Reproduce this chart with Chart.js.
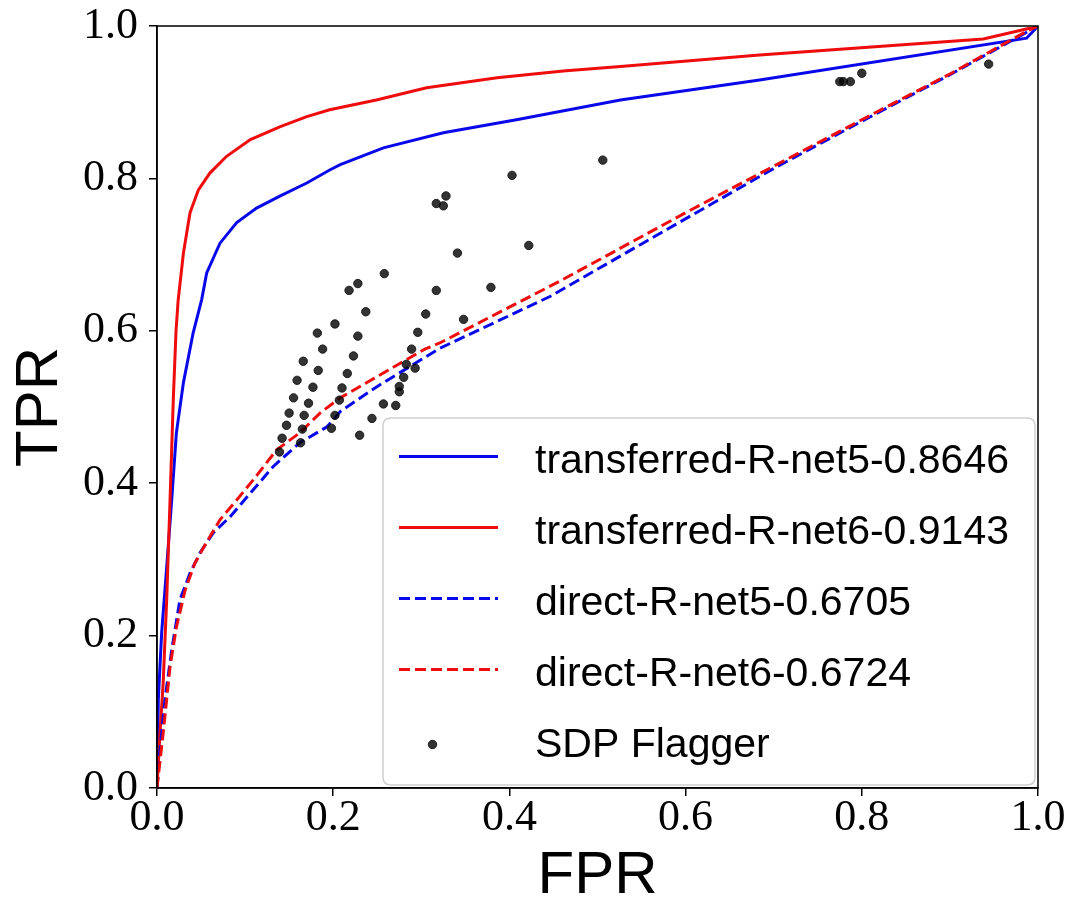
<!DOCTYPE html>
<html>
<head>
<meta charset="utf-8">
<script src="https://cdn.jsdelivr.net/npm/chart.js@4.4.1/dist/chart.umd.min.js"></script>
<style>
  html, body { margin: 0; padding: 0; background: #fff; }
  #wrap { width: 1070px; height: 914px; }
</style>
</head>
<body>
<div id="wrap"><canvas id="c" width="1070" height="914"></canvas></div>
<script>
// ---- Data ----
const seriesLabels = [
  'transferred-R-net5-0.8646',
  'transferred-R-net6-0.9143',
  'direct-R-net5-0.6705',
  'direct-R-net6-0.6724',
  'SDP Flagger'
];
const xTickValues = [0, 0.2, 0.4, 0.6, 0.8, 1.0];
const yTickValues = [0, 0.2, 0.4, 0.6, 0.8, 1.0];

// transferred-R-net5 (blue solid)
const tNet5FPR = [0, 0.0015, 0.0053, 0.011, 0.0167, 0.022, 0.030, 0.041, 0.0507, 0.0564, 0.0715, 0.0905, 0.113, 0.140, 0.170, 0.196, 0.208, 0.257, 0.325, 0.408, 0.526, 0.684, 0.987, 1.0];
const tNet5TPR = [0, 0.116, 0.204, 0.290, 0.378, 0.466, 0.532, 0.597, 0.641, 0.676, 0.715, 0.742, 0.761, 0.777, 0.794, 0.811, 0.818, 0.840, 0.860, 0.877, 0.903, 0.929, 0.984, 1.0];

// transferred-R-net6 (red solid)
const tNet6FPR = [0, 0.0034, 0.007, 0.011, 0.0148, 0.0185, 0.0216, 0.024, 0.030, 0.0375, 0.047, 0.060, 0.079, 0.106, 0.140, 0.170, 0.196, 0.249, 0.306, 0.386, 0.461, 0.526, 0.684, 0.938, 0.994, 1.0];
const tNet6TPR = [0, 0.072, 0.138, 0.247, 0.378, 0.510, 0.600, 0.640, 0.702, 0.755, 0.785, 0.807, 0.829, 0.851, 0.868, 0.881, 0.890, 0.903, 0.919, 0.932, 0.941, 0.947, 0.962, 0.983, 0.998, 1.0];

// direct-R-net5 (blue dashed)
const dNet5FPR = [0, 0.0034, 0.009, 0.0167, 0.026, 0.0375, 0.049, 0.064, 0.083, 0.106, 0.132, 0.162, 0.193, 0.208, 0.250, 0.321, 0.446, 0.550, 0.700, 0.800, 0.900, 1.0];
const dNet5TPR = [0, 0.050, 0.116, 0.181, 0.247, 0.282, 0.309, 0.335, 0.356, 0.387, 0.422, 0.453, 0.474, 0.494, 0.527, 0.577, 0.645, 0.714, 0.813, 0.875, 0.936, 1.0];

// direct-R-net6 (red dashed)
const dNet6FPR = [0, 0.007, 0.0148, 0.022, 0.032, 0.043, 0.056, 0.0715, 0.0905, 0.109, 0.136, 0.162, 0.185, 0.208, 0.250, 0.304, 0.321, 0.457, 0.600, 0.800, 0.900, 0.987, 1.0];
const dNet6TPR = [0, 0.072, 0.159, 0.211, 0.260, 0.295, 0.322, 0.352, 0.378, 0.404, 0.444, 0.466, 0.492, 0.512, 0.540, 0.576, 0.584, 0.665, 0.755, 0.877, 0.937, 0.993, 1.0];

// SDP Flagger operating points
const sdpFPR = [0.258, 0.228, 0.218, 0.317, 0.237, 0.305, 0.202, 0.182, 0.228, 0.296, 0.188, 0.223, 0.289, 0.166, 0.183, 0.216, 0.283, 0.293, 0.280, 0.159, 0.177, 0.210, 0.275, 0.275, 0.155, 0.172, 0.207, 0.257, 0.271, 0.150, 0.167, 0.202, 0.244, 0.147, 0.165, 0.198, 0.142, 0.163, 0.230, 0.139, 0.403, 0.328, 0.317, 0.325, 0.422, 0.341, 0.379, 0.348, 0.506, 0.775, 0.779, 0.787, 0.800, 0.944];
const sdpTPR = [0.675, 0.662, 0.653, 0.653, 0.625, 0.622, 0.609, 0.597, 0.593, 0.598, 0.576, 0.567, 0.576, 0.560, 0.548, 0.544, 0.556, 0.551, 0.539, 0.535, 0.526, 0.525, 0.527, 0.520, 0.512, 0.505, 0.509, 0.504, 0.502, 0.492, 0.489, 0.489, 0.485, 0.476, 0.471, 0.472, 0.459, 0.453, 0.463, 0.441, 0.804, 0.777, 0.767, 0.764, 0.712, 0.702, 0.657, 0.615, 0.824, 0.927, 0.927, 0.927, 0.938, 0.950];

// ---- helpers ----
const zipXY = (xs, ys) => xs.map((x, i) => ({ x: x, y: ys[i] }));
const BLUE = 'rgb(8,8,235)';
const RED = 'rgb(238,12,12)';
const SERIF = '"Liberation Serif", "DejaVu Serif", serif';
const SANS = '"Liberation Sans", Arial, sans-serif';

const datasets = [
  { label: seriesLabels[0], data: zipXY(tNet5FPR, tNet5TPR), showLine: true, borderColor: BLUE, backgroundColor: BLUE, borderWidth: 3, pointRadius: 0, order: 4, _legendKind: 'line' },
  { label: seriesLabels[1], data: zipXY(tNet6FPR, tNet6TPR), showLine: true, borderColor: RED, backgroundColor: RED, borderWidth: 3, pointRadius: 0, order: 3, _legendKind: 'line' },
  { label: seriesLabels[2], data: zipXY(dNet5FPR, dNet5TPR), showLine: true, borderColor: BLUE, backgroundColor: BLUE, borderWidth: 3, borderDash: [11, 5], pointRadius: 0, order: 2, _legendKind: 'dash' },
  { label: seriesLabels[3], data: zipXY(dNet6FPR, dNet6TPR), showLine: true, borderColor: RED, backgroundColor: RED, borderWidth: 3, borderDash: [11, 5], pointRadius: 0, order: 1, _legendKind: 'dash' },
  { label: seriesLabels[4], data: zipXY(sdpFPR, sdpTPR), showLine: false, borderColor: 'rgba(20,20,20,0.9)', backgroundColor: 'rgba(0,0,0,0.8)', borderWidth: 1, pointRadius: 4.2, pointHoverRadius: 4.2, order: 0, _legendKind: 'dot' }
];

// Frame around plot area (top/right spines)
const framePlugin = {
  id: 'frame',
  afterDatasetsDraw(chart) {
    const { ctx, chartArea: a } = chart;
    ctx.save();
    ctx.strokeStyle = '#000';
    ctx.lineWidth = 1.5;
    ctx.strokeRect(a.left, a.top, a.right - a.left, a.bottom - a.top);
    ctx.restore();
  }
};

// Legend drawn inside the axes (lower right), like matplotlib's
const innerLegend = {
  id: 'innerLegend',
  afterDraw(chart) {
    const { ctx, chartArea: a } = chart;
    const boxR = a.right - 3, boxB = a.bottom - 3;
    const boxW = 652, boxH = 367;
    const boxL = boxR - boxW, boxT = boxB - boxH;
    const r = 8;
    ctx.save();
    ctx.beginPath();
    ctx.moveTo(boxL + r, boxT);
    ctx.lineTo(boxR - r, boxT);
    ctx.quadraticCurveTo(boxR, boxT, boxR, boxT + r);
    ctx.lineTo(boxR, boxB - r);
    ctx.quadraticCurveTo(boxR, boxB, boxR - r, boxB);
    ctx.lineTo(boxL + r, boxB);
    ctx.quadraticCurveTo(boxL, boxB, boxL, boxB - r);
    ctx.lineTo(boxL, boxT + r);
    ctx.quadraticCurveTo(boxL, boxT, boxL + r, boxT);
    ctx.closePath();
    ctx.fillStyle = 'rgba(255,255,255,0.85)';
    ctx.fill();
    ctx.strokeStyle = '#d0d0d0';
    ctx.lineWidth = 1.5;
    ctx.stroke();

    const handleL = boxL + 16, handleR = boxL + 115, textX = boxL + 152;
    const row0 = boxT + 38.5, rowStep = 71;
    ctx.font = '41px ' + SANS;
    ctx.fillStyle = '#000';
    ctx.textBaseline = 'alphabetic';
    ctx.textAlign = 'left';
    chart.data.datasets.forEach((ds, i) => {
      const y = row0 + i * rowStep;
      ctx.save();
      if (ds._legendKind === 'dot') {
        ctx.beginPath();
        ctx.arc((handleL + handleR) / 2 - 16, y + 4, 4.2, 0, Math.PI * 2);
        ctx.fillStyle = ds.backgroundColor;
        ctx.fill();
        ctx.strokeStyle = ds.borderColor;
        ctx.lineWidth = 1;
        ctx.stroke();
      } else {
        ctx.beginPath();
        ctx.strokeStyle = ds.borderColor;
        ctx.lineWidth = 3;
        if (ds._legendKind === 'dash') ctx.setLineDash([11, 5]);
        ctx.moveTo(handleL, y);
        ctx.lineTo(handleR, y);
        ctx.stroke();
      }
      ctx.restore();
      ctx.fillStyle = '#000';
      ctx.fillText(ds.label, textX, y + 16);
    });
    ctx.restore();
  }
};

const tickFmt = v => Number(v).toFixed(1);

new Chart(document.getElementById('c'), {
  type: 'scatter',
  data: { datasets: datasets },
  options: {
    responsive: false,
    animation: false,
    events: [],
    layout: { padding: { top: 26, right: 32, left: 0, bottom: 0 } },
    plugins: {
      legend: { display: false },
      tooltip: { enabled: false }
    },
    scales: {
      x: {
        type: 'linear',
        min: 0, max: 1,
        afterBuildTicks: s => { s.ticks = xTickValues.map(v => ({ value: v })); },
        afterFit: s => { s.height = 126; s.paddingLeft = 0; s.paddingRight = 0; },
        ticks: { callback: tickFmt, font: { family: SERIF, size: 44, lineHeight: 1.0 }, color: '#000', padding: 0, maxRotation: 0, autoSkip: false },
        grid: { drawOnChartArea: false, drawTicks: true, tickLength: 8, color: '#000', lineWidth: 1.5 },
        border: { display: true, color: '#000', width: 1.5 },
        title: { display: true, text: 'FPR', font: { family: SANS, size: 60 }, color: '#000', padding: { top: 0, bottom: 2 } }
      },
      y: {
        type: 'linear',
        min: 0, max: 1,
        afterBuildTicks: s => { s.ticks = yTickValues.map(v => ({ value: v })); },
        afterFit: s => { s.width = 157; s.paddingTop = 0; s.paddingBottom = 0; },
        ticks: { callback: tickFmt, font: { family: SERIF, size: 44, lineHeight: 1.0 }, color: '#000', padding: 11, autoSkip: false },
        grid: { drawOnChartArea: false, drawTicks: true, tickLength: 8, color: '#000', lineWidth: 1.5 },
        border: { display: true, color: '#000', width: 1.5 },
        title: { display: true, text: 'TPR', font: { family: SANS, size: 60 }, color: '#000', padding: { top: 4, bottom: 0 } }
      }
    }
  },
  plugins: [framePlugin, innerLegend]
});
</script>
</body>
</html>
